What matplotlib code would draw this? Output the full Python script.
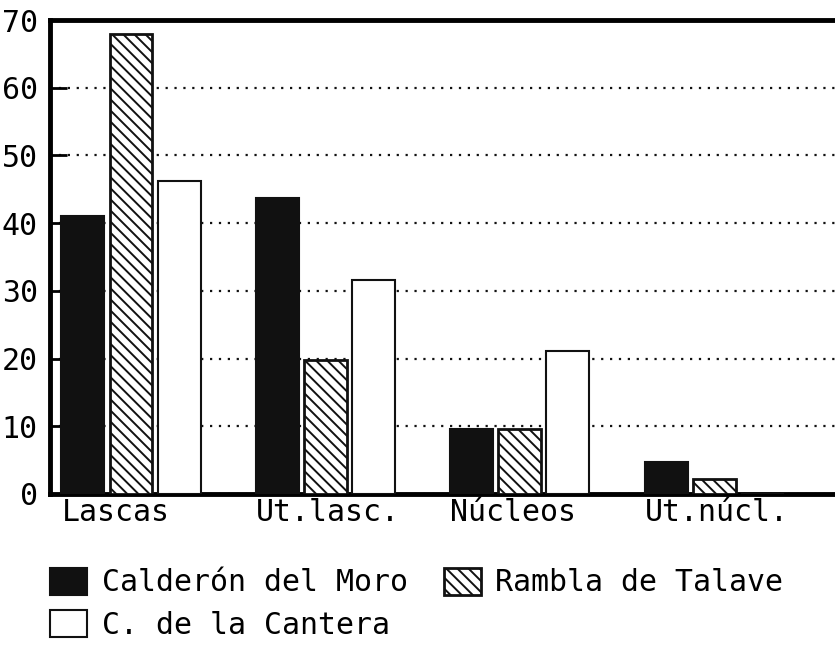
import matplotlib
matplotlib.use('Agg')
import matplotlib.pyplot as plt
import numpy as np

categories = ['Lascas', 'Ut.lasc.', 'Núcleos', 'Ut.núcl.']
series_names = ['Calderón del Moro', 'Rambla de Talave', 'C. de la Cantera']
calderon = [41.1, 43.7, 9.6, 4.7]
rambla = [68.0, 19.8, 9.6, 2.2]
cantera = [46.2, 31.6, 21.1, 0.0]

plt.rcParams['font.family'] = ['DejaVu Sans Mono']
plt.rcParams['hatch.linewidth'] = 1.4

fig = plt.figure(figsize=(8.35, 6.47), dpi=100)
ax = fig.add_axes([0.06, 0.2365, 0.94, 0.7325])

x = np.arange(len(categories))
w = 0.221
off = 0.247

b1 = ax.bar(x - off, calderon, w, color='#111111', edgecolor='#111111', linewidth=1.5,
            label=series_names[0], zorder=3)
b2 = ax.bar(x, rambla, w, color='white', edgecolor='#111111', linewidth=2, hatch='\\\\\\',
            label=series_names[1], zorder=3)
b3 = ax.bar(x + off, cantera, w, color='white', edgecolor='#111111', linewidth=1.5,
            label=series_names[2], zorder=3)

ax.set_xlim(-0.416, 3.62)
ax.set_ylim(0, 70)
ax.set_yticks(range(0, 71, 10))
ax.yaxis.grid(True, linestyle=(0, (1, 3)), color='#111111', linewidth=1.6, zorder=0)
ax.set_axisbelow(True)
ax.tick_params(axis='y', direction='in', length=12, width=2, labelsize=21.5, pad=9)

ax.set_xticks(x - off - w / 2)
ax.set_xticklabels(categories, ha='left')
ax.tick_params(axis='x', length=0, labelsize=21.5, pad=3)

for s in ['left', 'top', 'bottom']:
    ax.spines[s].set_linewidth(3.5)
ax.spines['right'].set_visible(False)

# column-first fill: Calderón / Cantera in col 1, Rambla in col 2
fig.legend([b1, b3, b2], [series_names[0], series_names[2], series_names[1]],
           loc='upper left', bbox_to_anchor=(0.056, 0.127), ncol=2, frameon=False,
           fontsize=21.5, handlelength=1.24, handleheight=1.0, handletextpad=0.5,
           columnspacing=1.2, labelspacing=0.43, borderpad=0.1, borderaxespad=0)

fig.savefig('out.png', dpi=100)
